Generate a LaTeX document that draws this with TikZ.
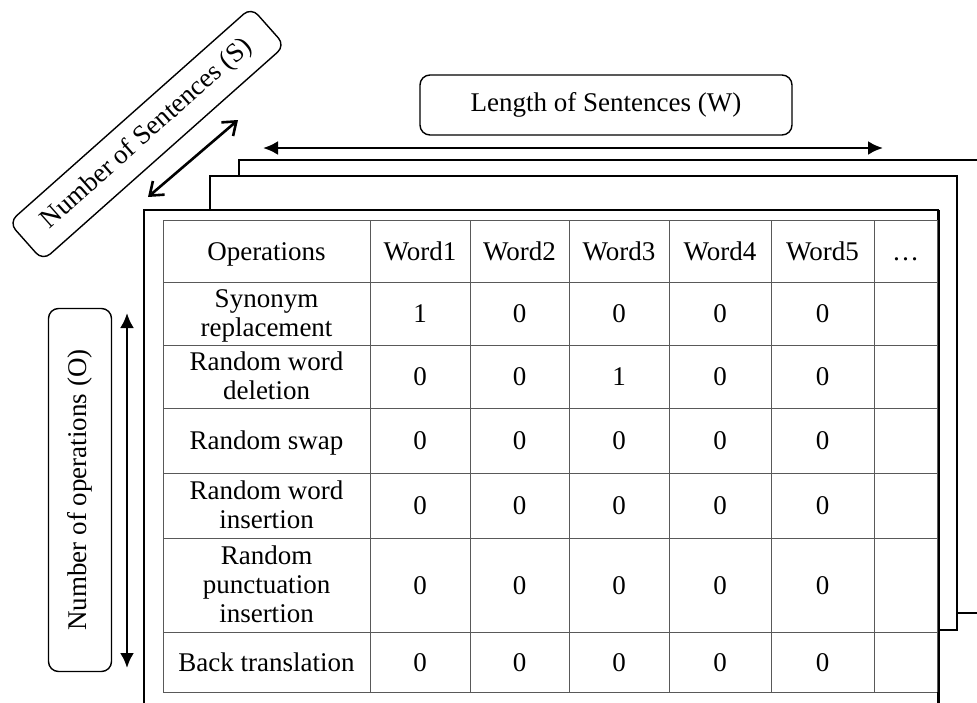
\documentclass[tikz,border=0pt]{standalone}
\usepackage{fontspec}
\setmainfont{Liberation Serif}
\usetikzlibrary{arrows.meta}

\tikzset{
    sheet/.style={draw=black, line width=1.4pt, fill=white},
    gridline/.style={draw=black!65, line width=1pt},
    cell/.style={align=center, inner sep=0pt, font=\fontsize{27}{29}\selectfont,
        execute at begin node=\strut, execute at end node=\strut},
    tag/.style={draw, rounded corners=10pt, line width=1.4pt, inner sep=0pt, font=\fontsize{27}{29}\selectfont},
    dimarrow/.style={{Latex[length=15pt,width=14pt]}-{Latex[length=15pt,width=14pt]}, line width=2.6pt},
}

\begin{document}
\begin{tikzpicture}[x=1pt,y=-1pt]
    \useasboundingbox (0,0) rectangle (977,702);
    \clip (0,0) rectangle (977,702);
    % stacked sheets
    \draw[sheet] (239,613) rectangle (1000,160);
    \draw[sheet] (210,630) rectangle (957,176);
    \draw[sheet] (144,720) rectangle (938,210);
    \draw[line width=2.2pt] (938.5,210) -- (938.5,720);
    % table grid
    \foreach \y in {220,282,345,408,473,538,632,692}
        \draw[gridline] (163,\y) -- (937,\y);
    \foreach \x in {163,370,470,569,669,771,874,937}
        \draw[gridline] (\x,220) -- (\x,692);
    % header
    \node[cell] (hop) at (266.5,254.5) {Operations};
    \foreach \x [count=\c] in {420,519.5,619,720,822.5}
        \node[cell] (w\c) at (\x,254.5) {Word\c};
    \node[cell] (wdots) at (905.5,254.5) {\dots};
    % rows
    \foreach \r/\y/\op/\vals in {
        1/317/{Synonym\\replacement}/{1,0,0,0,0},
        2/380/{Random word\\deletion}/{0,0,1,0,0},
        3/444/{Random swap}/{0,0,0,0,0},
        4/509/{Random word\\insertion}/{0,0,0,0,0},
        5/588.5/{Random\\punctuation\\insertion}/{0,0,0,0,0},
        6/665.5/{Back translation}/{0,0,0,0,0}} {
        \node[cell] (op\r) at (266.5,\y) {\op};
        \foreach \v [count=\c] in \vals
            \node[cell] (v\r-\c) at (w\c |- op\r) {\v};
    }
    % axis labels
    \node[tag, minimum width=372pt, minimum height=60pt] (wtag) at (606,105) {Length of Sentences (W)};
    \node[tag, rotate=90, minimum width=363pt, minimum height=63pt] (otag) at (80,490) {Number of operations (O)};
    \node[tag, rotate=41.6, minimum width=324pt, minimum height=51pt] (stag) at (147,134) {Number of Sentences (S)};
    % axis arrows
    \coordinate (wl) at (263,148);
    \coordinate (wr) at (883,148);
    \coordinate (ot) at (127,313);
    \coordinate (ob) at (127,668);
    \coordinate (sa) at (148,197);
    \coordinate (sb) at (238,120);
    \draw[dimarrow] (wl) -- (wr);
    \draw[dimarrow] (ot) -- (ob);
    \draw[{Straight Barb[length=12pt,width=18pt]}-{Straight Barb[length=12pt,width=18pt]}, line width=2.6pt] (sa) -- (sb);
\end{tikzpicture}
\end{document}
